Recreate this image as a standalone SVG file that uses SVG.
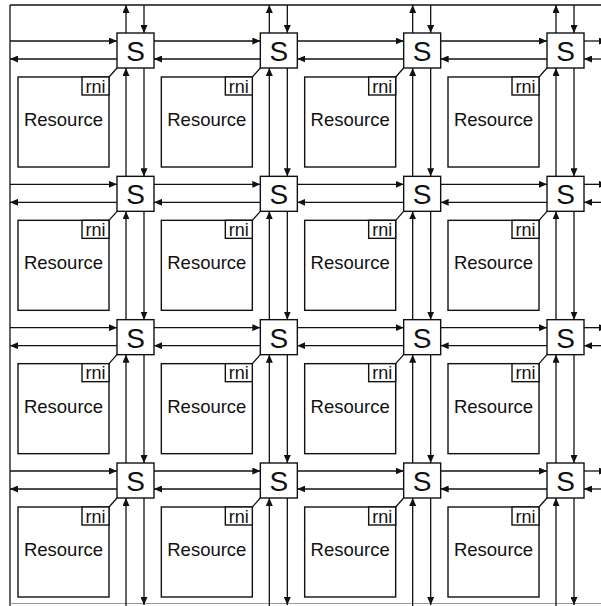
<svg xmlns="http://www.w3.org/2000/svg" width="601" height="606" viewBox="0 0 601 606">
<style>
.c line{stroke:#111;stroke-width:1.3;fill:none}
.c .a{marker-end:url(#ah)}
.box{fill:#fff;stroke:#111;stroke-width:1.4}
.lk{stroke:#111;stroke-width:1.3}
.sw{font-family:"Liberation Sans",Arial,sans-serif;font-size:28px;fill:#111;text-anchor:middle}
.res{font-family:"Liberation Sans",Arial,sans-serif;font-size:18.5px;fill:#111;text-anchor:middle}
.rni{font-family:"Liberation Sans",Arial,sans-serif;font-size:18px;fill:#111;text-anchor:middle}
</style>
<defs>
<marker id="ah" viewBox="0 0 8 7" refX="8" refY="3.5" markerWidth="8" markerHeight="7" markerUnits="userSpaceOnUse" orient="auto"><path d="M0,0 L8,3.5 L0,7 z" fill="#111"/></marker>
</defs>
<rect width="601" height="606" fill="#fff"/>
<g id="frame" fill="none">
<line x1="10" y1="5" x2="601" y2="5" stroke="#111" stroke-width="1.3"/>
<line x1="10" y1="5" x2="10" y2="606" stroke="#111" stroke-width="1.3"/>
<line x1="10" y1="603.5" x2="601" y2="603.5" stroke="#999" stroke-width="1"/>
</g>
<g id="connectors" class="c">
<line class="a" x1="126" y1="33" x2="126" y2="5"/>
<line class="a" x1="144" y1="5" x2="144" y2="33"/>
<line class="a" x1="126" y1="176.33" x2="126" y2="68"/>
<line class="a" x1="144" y1="68" x2="144" y2="176.33"/>
<line class="a" x1="126" y1="319.67" x2="126" y2="211.33"/>
<line class="a" x1="144" y1="211.33" x2="144" y2="319.67"/>
<line class="a" x1="126" y1="463" x2="126" y2="354.67"/>
<line class="a" x1="144" y1="354.67" x2="144" y2="463"/>
<line class="a" x1="126" y1="606" x2="126" y2="498"/>
<line class="a" x1="144" y1="498" x2="144" y2="605"/>
<line class="a" x1="269.33" y1="33" x2="269.33" y2="5"/>
<line class="a" x1="287.33" y1="5" x2="287.33" y2="33"/>
<line class="a" x1="269.33" y1="176.33" x2="269.33" y2="68"/>
<line class="a" x1="287.33" y1="68" x2="287.33" y2="176.33"/>
<line class="a" x1="269.33" y1="319.67" x2="269.33" y2="211.33"/>
<line class="a" x1="287.33" y1="211.33" x2="287.33" y2="319.67"/>
<line class="a" x1="269.33" y1="463" x2="269.33" y2="354.67"/>
<line class="a" x1="287.33" y1="354.67" x2="287.33" y2="463"/>
<line class="a" x1="269.33" y1="606" x2="269.33" y2="498"/>
<line class="a" x1="287.33" y1="498" x2="287.33" y2="605"/>
<line class="a" x1="412.67" y1="33" x2="412.67" y2="5"/>
<line class="a" x1="430.67" y1="5" x2="430.67" y2="33"/>
<line class="a" x1="412.67" y1="176.33" x2="412.67" y2="68"/>
<line class="a" x1="430.67" y1="68" x2="430.67" y2="176.33"/>
<line class="a" x1="412.67" y1="319.67" x2="412.67" y2="211.33"/>
<line class="a" x1="430.67" y1="211.33" x2="430.67" y2="319.67"/>
<line class="a" x1="412.67" y1="463" x2="412.67" y2="354.67"/>
<line class="a" x1="430.67" y1="354.67" x2="430.67" y2="463"/>
<line class="a" x1="412.67" y1="606" x2="412.67" y2="498"/>
<line class="a" x1="430.67" y1="498" x2="430.67" y2="605"/>
<line class="a" x1="556" y1="33" x2="556" y2="5"/>
<line class="a" x1="574" y1="5" x2="574" y2="33"/>
<line class="a" x1="556" y1="176.33" x2="556" y2="68"/>
<line class="a" x1="574" y1="68" x2="574" y2="176.33"/>
<line class="a" x1="556" y1="319.67" x2="556" y2="211.33"/>
<line class="a" x1="574" y1="211.33" x2="574" y2="319.67"/>
<line class="a" x1="556" y1="463" x2="556" y2="354.67"/>
<line class="a" x1="574" y1="354.67" x2="574" y2="463"/>
<line class="a" x1="556" y1="606" x2="556" y2="498"/>
<line class="a" x1="574" y1="498" x2="574" y2="605"/>
<line class="a" x1="10" y1="41" x2="117" y2="41"/>
<line class="a" x1="117" y1="59" x2="10" y2="59"/>
<line class="a" x1="154" y1="41" x2="260.33" y2="41"/>
<line class="a" x1="260.33" y1="59" x2="154" y2="59"/>
<line class="a" x1="297.33" y1="41" x2="403.67" y2="41"/>
<line class="a" x1="403.67" y1="59" x2="297.33" y2="59"/>
<line class="a" x1="440.67" y1="41" x2="547" y2="41"/>
<line class="a" x1="547" y1="59" x2="440.67" y2="59"/>
<line class="a" x1="584" y1="41" x2="607" y2="41"/>
<line class="a" x1="601" y1="59" x2="584" y2="59"/>
<line class="a" x1="10" y1="184.33" x2="117" y2="184.33"/>
<line class="a" x1="117" y1="202.33" x2="10" y2="202.33"/>
<line class="a" x1="154" y1="184.33" x2="260.33" y2="184.33"/>
<line class="a" x1="260.33" y1="202.33" x2="154" y2="202.33"/>
<line class="a" x1="297.33" y1="184.33" x2="403.67" y2="184.33"/>
<line class="a" x1="403.67" y1="202.33" x2="297.33" y2="202.33"/>
<line class="a" x1="440.67" y1="184.33" x2="547" y2="184.33"/>
<line class="a" x1="547" y1="202.33" x2="440.67" y2="202.33"/>
<line class="a" x1="584" y1="184.33" x2="607" y2="184.33"/>
<line class="a" x1="601" y1="202.33" x2="584" y2="202.33"/>
<line class="a" x1="10" y1="327.67" x2="117" y2="327.67"/>
<line class="a" x1="117" y1="345.67" x2="10" y2="345.67"/>
<line class="a" x1="154" y1="327.67" x2="260.33" y2="327.67"/>
<line class="a" x1="260.33" y1="345.67" x2="154" y2="345.67"/>
<line class="a" x1="297.33" y1="327.67" x2="403.67" y2="327.67"/>
<line class="a" x1="403.67" y1="345.67" x2="297.33" y2="345.67"/>
<line class="a" x1="440.67" y1="327.67" x2="547" y2="327.67"/>
<line class="a" x1="547" y1="345.67" x2="440.67" y2="345.67"/>
<line class="a" x1="584" y1="327.67" x2="607" y2="327.67"/>
<line class="a" x1="601" y1="345.67" x2="584" y2="345.67"/>
<line class="a" x1="10" y1="471" x2="117" y2="471"/>
<line class="a" x1="117" y1="489" x2="10" y2="489"/>
<line class="a" x1="154" y1="471" x2="260.33" y2="471"/>
<line class="a" x1="260.33" y1="489" x2="154" y2="489"/>
<line class="a" x1="297.33" y1="471" x2="403.67" y2="471"/>
<line class="a" x1="403.67" y1="489" x2="297.33" y2="489"/>
<line class="a" x1="440.67" y1="471" x2="547" y2="471"/>
<line class="a" x1="547" y1="489" x2="440.67" y2="489"/>
<line class="a" x1="584" y1="471" x2="607" y2="471"/>
<line class="a" x1="601" y1="489" x2="584" y2="489"/>
</g>
<g id="nodes">
<g id="node-1-1" transform="translate(117,33)"><rect class="box" x="-99" y="44" width="91" height="90"/><rect class="box" x="-35" y="44" width="27" height="18"/><text class="rni" x="-21.5" y="59.5">rni</text><text class="res" x="-53.5" y="93">Resource</text><line class="lk" x1="-8" y1="44" x2="0" y2="35"/><rect class="box" x="0" y="0" width="37" height="35"/><text class="sw" x="18.5" y="28">S</text></g>
<g id="node-1-2" transform="translate(260.33,33)"><rect class="box" x="-99" y="44" width="91" height="90"/><rect class="box" x="-35" y="44" width="27" height="18"/><text class="rni" x="-21.5" y="59.5">rni</text><text class="res" x="-53.5" y="93">Resource</text><line class="lk" x1="-8" y1="44" x2="0" y2="35"/><rect class="box" x="0" y="0" width="37" height="35"/><text class="sw" x="18.5" y="28">S</text></g>
<g id="node-1-3" transform="translate(403.67,33)"><rect class="box" x="-99" y="44" width="91" height="90"/><rect class="box" x="-35" y="44" width="27" height="18"/><text class="rni" x="-21.5" y="59.5">rni</text><text class="res" x="-53.5" y="93">Resource</text><line class="lk" x1="-8" y1="44" x2="0" y2="35"/><rect class="box" x="0" y="0" width="37" height="35"/><text class="sw" x="18.5" y="28">S</text></g>
<g id="node-1-4" transform="translate(547,33)"><rect class="box" x="-99" y="44" width="91" height="90"/><rect class="box" x="-35" y="44" width="27" height="18"/><text class="rni" x="-21.5" y="59.5">rni</text><text class="res" x="-53.5" y="93">Resource</text><line class="lk" x1="-8" y1="44" x2="0" y2="35"/><rect class="box" x="0" y="0" width="37" height="35"/><text class="sw" x="18.5" y="28">S</text></g>
<g id="node-2-1" transform="translate(117,176.33)"><rect class="box" x="-99" y="44" width="91" height="90"/><rect class="box" x="-35" y="44" width="27" height="18"/><text class="rni" x="-21.5" y="59.5">rni</text><text class="res" x="-53.5" y="93">Resource</text><line class="lk" x1="-8" y1="44" x2="0" y2="35"/><rect class="box" x="0" y="0" width="37" height="35"/><text class="sw" x="18.5" y="28">S</text></g>
<g id="node-2-2" transform="translate(260.33,176.33)"><rect class="box" x="-99" y="44" width="91" height="90"/><rect class="box" x="-35" y="44" width="27" height="18"/><text class="rni" x="-21.5" y="59.5">rni</text><text class="res" x="-53.5" y="93">Resource</text><line class="lk" x1="-8" y1="44" x2="0" y2="35"/><rect class="box" x="0" y="0" width="37" height="35"/><text class="sw" x="18.5" y="28">S</text></g>
<g id="node-2-3" transform="translate(403.67,176.33)"><rect class="box" x="-99" y="44" width="91" height="90"/><rect class="box" x="-35" y="44" width="27" height="18"/><text class="rni" x="-21.5" y="59.5">rni</text><text class="res" x="-53.5" y="93">Resource</text><line class="lk" x1="-8" y1="44" x2="0" y2="35"/><rect class="box" x="0" y="0" width="37" height="35"/><text class="sw" x="18.5" y="28">S</text></g>
<g id="node-2-4" transform="translate(547,176.33)"><rect class="box" x="-99" y="44" width="91" height="90"/><rect class="box" x="-35" y="44" width="27" height="18"/><text class="rni" x="-21.5" y="59.5">rni</text><text class="res" x="-53.5" y="93">Resource</text><line class="lk" x1="-8" y1="44" x2="0" y2="35"/><rect class="box" x="0" y="0" width="37" height="35"/><text class="sw" x="18.5" y="28">S</text></g>
<g id="node-3-1" transform="translate(117,319.67)"><rect class="box" x="-99" y="44" width="91" height="90"/><rect class="box" x="-35" y="44" width="27" height="18"/><text class="rni" x="-21.5" y="59.5">rni</text><text class="res" x="-53.5" y="93">Resource</text><line class="lk" x1="-8" y1="44" x2="0" y2="35"/><rect class="box" x="0" y="0" width="37" height="35"/><text class="sw" x="18.5" y="28">S</text></g>
<g id="node-3-2" transform="translate(260.33,319.67)"><rect class="box" x="-99" y="44" width="91" height="90"/><rect class="box" x="-35" y="44" width="27" height="18"/><text class="rni" x="-21.5" y="59.5">rni</text><text class="res" x="-53.5" y="93">Resource</text><line class="lk" x1="-8" y1="44" x2="0" y2="35"/><rect class="box" x="0" y="0" width="37" height="35"/><text class="sw" x="18.5" y="28">S</text></g>
<g id="node-3-3" transform="translate(403.67,319.67)"><rect class="box" x="-99" y="44" width="91" height="90"/><rect class="box" x="-35" y="44" width="27" height="18"/><text class="rni" x="-21.5" y="59.5">rni</text><text class="res" x="-53.5" y="93">Resource</text><line class="lk" x1="-8" y1="44" x2="0" y2="35"/><rect class="box" x="0" y="0" width="37" height="35"/><text class="sw" x="18.5" y="28">S</text></g>
<g id="node-3-4" transform="translate(547,319.67)"><rect class="box" x="-99" y="44" width="91" height="90"/><rect class="box" x="-35" y="44" width="27" height="18"/><text class="rni" x="-21.5" y="59.5">rni</text><text class="res" x="-53.5" y="93">Resource</text><line class="lk" x1="-8" y1="44" x2="0" y2="35"/><rect class="box" x="0" y="0" width="37" height="35"/><text class="sw" x="18.5" y="28">S</text></g>
<g id="node-4-1" transform="translate(117,463)"><rect class="box" x="-99" y="44" width="91" height="90"/><rect class="box" x="-35" y="44" width="27" height="18"/><text class="rni" x="-21.5" y="59.5">rni</text><text class="res" x="-53.5" y="93">Resource</text><line class="lk" x1="-8" y1="44" x2="0" y2="35"/><rect class="box" x="0" y="0" width="37" height="35"/><text class="sw" x="18.5" y="28">S</text></g>
<g id="node-4-2" transform="translate(260.33,463)"><rect class="box" x="-99" y="44" width="91" height="90"/><rect class="box" x="-35" y="44" width="27" height="18"/><text class="rni" x="-21.5" y="59.5">rni</text><text class="res" x="-53.5" y="93">Resource</text><line class="lk" x1="-8" y1="44" x2="0" y2="35"/><rect class="box" x="0" y="0" width="37" height="35"/><text class="sw" x="18.5" y="28">S</text></g>
<g id="node-4-3" transform="translate(403.67,463)"><rect class="box" x="-99" y="44" width="91" height="90"/><rect class="box" x="-35" y="44" width="27" height="18"/><text class="rni" x="-21.5" y="59.5">rni</text><text class="res" x="-53.5" y="93">Resource</text><line class="lk" x1="-8" y1="44" x2="0" y2="35"/><rect class="box" x="0" y="0" width="37" height="35"/><text class="sw" x="18.5" y="28">S</text></g>
<g id="node-4-4" transform="translate(547,463)"><rect class="box" x="-99" y="44" width="91" height="90"/><rect class="box" x="-35" y="44" width="27" height="18"/><text class="rni" x="-21.5" y="59.5">rni</text><text class="res" x="-53.5" y="93">Resource</text><line class="lk" x1="-8" y1="44" x2="0" y2="35"/><rect class="box" x="0" y="0" width="37" height="35"/><text class="sw" x="18.5" y="28">S</text></g>
</g>
</svg>
